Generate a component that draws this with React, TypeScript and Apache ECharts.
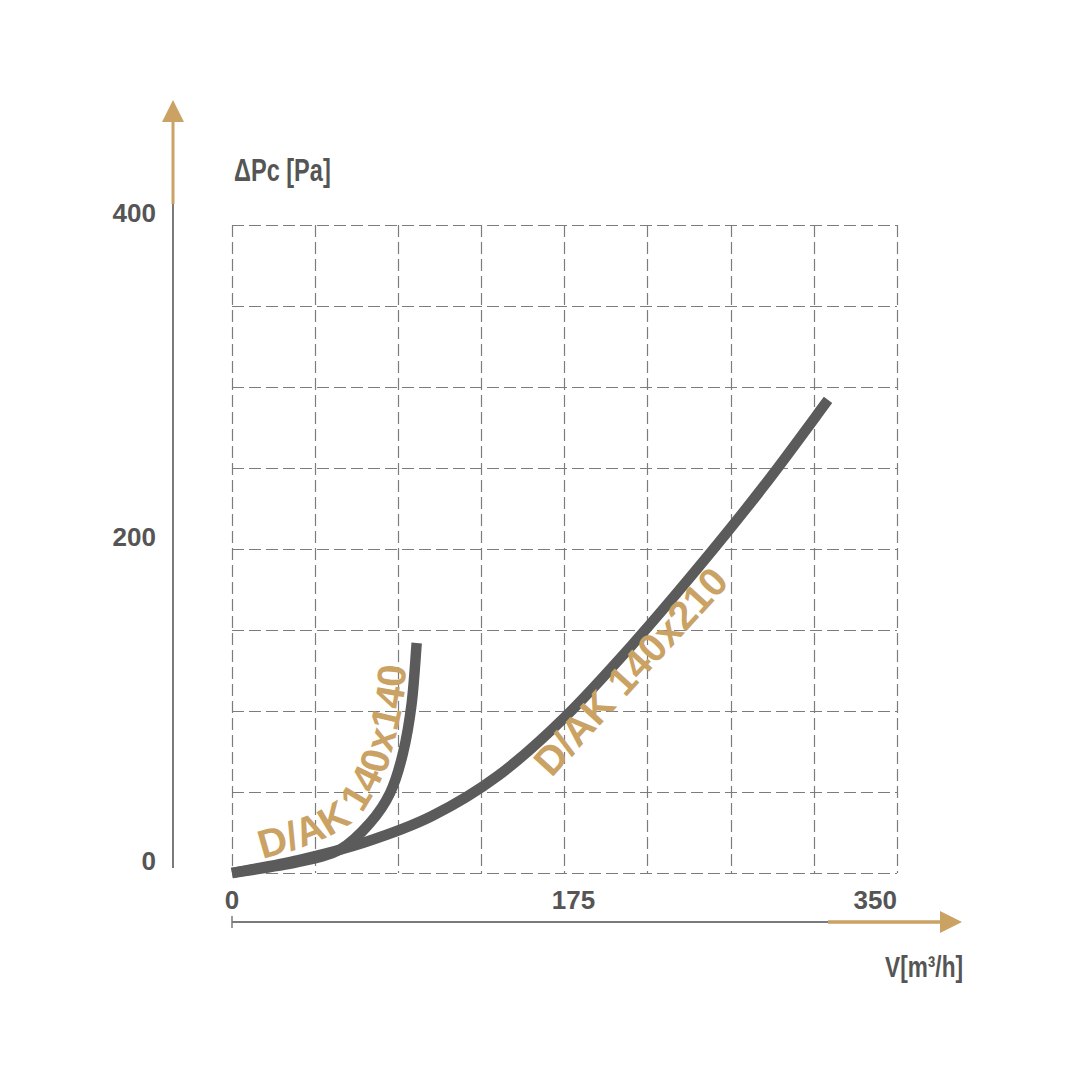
import React, { useEffect, useRef } from 'react';
import * as echarts from 'echarts';

// ---- data ----
const xTickLabels = [0, 175, 350];
const yTickLabels = [0, 200, 400];
const seriesNames = ['D/AK 140x140', 'D/AK 140x210'];

const flow140 = [0, 34, 56.8, 72.6, 83.2, 90, 94.6, 97.2];
const dp140 = [0, 6.5, 14.5, 30.9, 49.4, 74, 105, 142];

const flow210 = [0, 35, 70, 105, 140, 175, 210, 245, 280, 313.7];
const dp210 = [0, 8, 19, 35, 60, 96, 140, 188, 239, 292];

// label baselines (data coordinates) along which the curve names are written
const label140X = [15.8, 35.8, 51.6, 62.1, 68.4, 74.7, 81.1, 84.7, 87.4, 89.5, 90.5, 91.1];
const label140Y = [9.9, 16.7, 24.1, 31.5, 38.9, 51.2, 66.7, 82.1, 95.7, 109.9, 125.3, 140.7];
const label210X = [167.4, 258.9];
const label210Y = [59.3, 176.5];

const AXIS_FONT = '"Liberation Sans", Arial, sans-serif';
const LABEL_FONT = '"Liberation Sans", Arial, sans-serif';
const GOLD = '#c9a264';
const GREY_TEXT = '#555555';
const CURVE = '#5b5b5b';

function textAlongPath(chart: any, text: string, xs: number[], ys: number[], fontSize: number, drop: number) {
  const pts = xs.map((x, i) => chart.convertToPixel({ gridIndex: 0 }, [x, ys[i]]) as number[]);
  const canvas = document.createElement('canvas');
  const ctx = canvas.getContext('2d')!;
  ctx.font = `bold ${fontSize}px ${LABEL_FONT}`;
  const segLen: number[] = [];
  for (let i = 0; i < pts.length - 1; i++) {
    segLen.push(Math.hypot(pts[i + 1][0] - pts[i][0], pts[i + 1][1] - pts[i][1]));
  }
  const pointAt = (s: number) => {
    let i = 0;
    while (i < segLen.length - 1 && s > segLen[i]) {
      s -= segLen[i];
      i++;
    }
    const a = pts[i];
    const b = pts[i + 1];
    const dx = (b[0] - a[0]) / segLen[i];
    const dy = (b[1] - a[1]) / segLen[i];
    return { x: a[0] + dx * s, y: a[1] + dy * s, dx, dy };
  };
  const els: any[] = [];
  let s = 0;
  for (const ch of text) {
    const w = ctx.measureText(ch).width;
    const p = pointAt(s + w / 2);
    els.push({
      type: 'text',
      x: p.x - p.dy * drop,
      y: p.y + p.dx * drop,
      rotation: -Math.atan2(p.dy, p.dx),
      silent: true,
      z: 100,
      style: {
        text: ch,
        fontSize,
        fontWeight: 'bold',
        fontFamily: LABEL_FONT,
        fill: GOLD,
        align: 'center',
        verticalAlign: 'bottom',
      },
    });
    s += w;
  }
  return els;
}

// Smooth curve (Catmull-Rom -> cubic Bezier) through the data points, positioned with the axes.
function curveSeries(name: string, xs: number[], ys: number[], z: number) {
  return {
    name,
    type: 'custom',
    coordinateSystem: 'cartesian2d',
    clip: false,
    z,
    data: xs.map((x, i) => [x, ys[i]]),
    encode: { x: 0, y: 1 },
    renderItem: (params: any, api: any) => {
      if (params.dataIndex !== 0) return null;
      const p = xs.map((x, i) => api.coord([x, ys[i]]) as number[]);
      const n = p.length;
      let d = `M${p[0][0]},${p[0][1]}`;
      for (let i = 0; i < n - 1; i++) {
        const p0 = p[Math.max(0, i - 1)];
        const p1 = p[i];
        const p2 = p[i + 1];
        const p3 = p[Math.min(n - 1, i + 2)];
        const c1x = p1[0] + (p2[0] - p0[0]) / 6;
        const c1y = p1[1] + (p2[1] - p0[1]) / 6;
        const c2x = p2[0] - (p3[0] - p1[0]) / 6;
        const c2y = p2[1] - (p3[1] - p1[1]) / 6;
        d += ` C${c1x},${c1y} ${c2x},${c2y} ${p2[0]},${p2[1]}`;
      }
      return {
        type: 'path',
        shape: { pathData: d },
        style: { fill: 'none', stroke: CURVE, lineWidth: 10.5, lineCap: 'butt', lineJoin: 'round' },
        silent: true,
      };
    },
  };
}

export default function App() {
  const ref = useRef<HTMLDivElement>(null);
  useEffect(() => {
    if (!ref.current) return;
    const chart = echarts.init(ref.current, null, { renderer: 'svg' });
    const axisLabelStyle = {
      fontSize: 26,
      fontWeight: 'bold' as const,
      fontFamily: AXIS_FONT,
      color: GREY_TEXT,
    };
    const splitLine = {
      show: true,
      lineStyle: { color: '#7c7c7c', width: 1.2, type: [12, 5] as any },
    };
    chart.setOption({
      animation: false,
      backgroundColor: '#ffffff',
      grid: { left: 232, right: 183, top: 225, bottom: 207, outerBoundsMode: 'none' },
      xAxis: {
        type: 'value',
        min: 0,
        max: 350,
        interval: 43.75,
        axisLine: { show: false },
        axisTick: { show: false },
        splitLine,
        axisLabel: {
          ...axisLabelStyle,
          margin: 14,
          showMaxLabel: true,
          alignMaxLabel: 'right',
          formatter: (v: number) => {
            if (!xTickLabels.includes(v)) return '';
            return v === xTickLabels[1] ? `{mid|${v}}` : String(v);
          },
          rich: {
            mid: { ...axisLabelStyle, padding: [0, 0, 0, 18] },
          },
        },
      },
      yAxis: {
        type: 'value',
        min: 0,
        max: 400,
        interval: 50,
        offset: 59,
        axisLine: { show: false },
        axisTick: { show: false },
        splitLine,
        axisLabel: {
          ...axisLabelStyle,
          margin: 17,
          verticalAlign: 'bottom',
          lineHeight: 24,
          formatter: (v: number) => (yTickLabels.includes(v) ? String(v) : ''),
        },
      },
      series: [
        curveSeries(seriesNames[1], flow210, dp210, 3),
        curveSeries(seriesNames[0], flow140, dp140, 4),
      ],
    });

    const graphics: any[] = [
      // y axis
      { type: 'line', shape: { x1: 173, y1: 868, x2: 173, y2: 203 }, style: { stroke: '#7a7a7a', lineWidth: 2 }, silent: true },
      { type: 'line', shape: { x1: 173, y1: 204, x2: 173, y2: 118 }, style: { stroke: GOLD, lineWidth: 3 }, silent: true },
      { type: 'polygon', shape: { points: [[162, 122], [184, 122], [173, 100]] }, style: { fill: GOLD }, silent: true },
      // x axis
      { type: 'line', shape: { x1: 232, y1: 922, x2: 830, y2: 922 }, style: { stroke: '#7a7a7a', lineWidth: 2 }, silent: true },
      { type: 'line', shape: { x1: 232, y1: 916, x2: 232, y2: 928 }, style: { stroke: '#7a7a7a', lineWidth: 1.5 }, silent: true },
      { type: 'line', shape: { x1: 828, y1: 922, x2: 944, y2: 922 }, style: { stroke: GOLD, lineWidth: 3.5 }, silent: true },
      { type: 'polygon', shape: { points: [[940, 911], [940, 933], [962, 922]] }, style: { fill: GOLD }, silent: true },
      // axis names
      {
        type: 'text', x: 234, y: 170, scaleX: 0.76, silent: true,
        style: { text: 'ΔPc [Pa]', fontSize: 31, fontWeight: 'bold', fontFamily: AXIS_FONT, fill: GREY_TEXT, align: 'left', verticalAlign: 'middle' },
      },
      {
        type: 'text', x: 963, y: 967, scaleX: 0.78, silent: true,
        style: { text: 'V[m³/h]', fontSize: 29, fontWeight: 'bold', fontFamily: AXIS_FONT, fill: GREY_TEXT, align: 'right', verticalAlign: 'middle' },
      },
      ...textAlongPath(chart, seriesNames[0], label140X, label140Y, 40, 8),
      ...textAlongPath(chart, seriesNames[1], label210X, label210Y, 40, 8),
    ];
    chart.setOption({ graphic: graphics });

    return () => chart.dispose();
  }, []);
  return (
    <div
      ref={ref}
      style={{ position: 'absolute', left: 0, top: 0, width: 1080, height: 1080, background: '#fff' }}
    />
  );
}
